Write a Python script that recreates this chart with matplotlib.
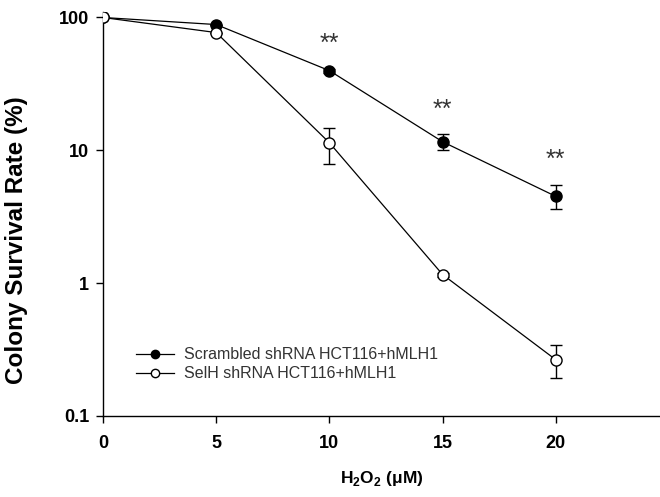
import numpy as np
import matplotlib
matplotlib.use("Agg")
import matplotlib.pyplot as plt

plt.rcParams["font.family"] = ["Liberation Sans", "DejaVu Sans"]
plt.rcParams["mathtext.fontset"] = "custom"
plt.rcParams["mathtext.rm"] = "Liberation Sans"
plt.rcParams["mathtext.bf"] = "Liberation Sans:bold"

# ------------------------------------------------------------
# Data
# ------------------------------------------------------------
dose = [0, 5, 10, 15, 20]

scr_mean = [100, 88.5, 39.8, 11.6, 4.5]
scr_lo = [0, 0, 1.5, 1.5, 0.9]
scr_hi = [0, 0, 1.5, 1.6, 1.0]

selh_mean = [100, 77, 11.4, 1.16, 0.265]
selh_lo = [0, 0, 3.5, 0.04, 0.072]
selh_hi = [0, 0, 3.4, 0.04, 0.075]

sig_dose = [10, 15, 20]
sig_label = "**"

scr_name = "Scrambled shRNA HCT116+hMLH1"
selh_name = "SelH shRNA HCT116+hMLH1"

# ------------------------------------------------------------
# Figure
# ------------------------------------------------------------
fig = plt.figure(figsize=(6.6, 4.97), dpi=100)
ax = fig.add_axes([103 / 660, 81 / 497, 557 / 660, 404 / 497])

err_kw = dict(fmt="none", ecolor="black", elinewidth=1.0,
              capsize=4, capthick=1.0)
ax.errorbar(dose, scr_mean, yerr=[scr_lo, scr_hi], zorder=2, **err_kw)
ax.errorbar(dose, selh_mean, yerr=[selh_lo, selh_hi], zorder=2, **err_kw)

ax.plot(dose, scr_mean, color="black", linewidth=0.9, marker="o",
        markersize=8, markerfacecolor="black", markeredgecolor="black",
        label=scr_name, zorder=3)
ax.plot(dose, selh_mean, color="black", linewidth=0.9, marker="o",
        markersize=8, markerfacecolor="white", markeredgecolor="black",
        label=selh_name, zorder=4)

# significance stars above the scrambled series
for x in sig_dose:
    i = dose.index(x)
    top = scr_mean[i] + scr_hi[i]
    ax.annotate(sig_label, xy=(x, top), xytext=(0, 9),
                textcoords="offset points", ha="center", va="bottom",
                fontsize=18, color="#333333")

ax.set_yscale("log")
ax.set_xlim(0, 24.6)
ax.set_ylim(0.1, 110)

ax.set_xticks([0, 5, 10, 15, 20])
ax.set_yticks([0.1, 1, 10, 100])
ax.set_yticklabels(["0.1", "1", "10", "100"])
ax.yaxis.set_minor_locator(matplotlib.ticker.NullLocator())
ax.tick_params(direction="out", length=5, width=1, labelsize=13)
ax.tick_params(axis="x", pad=9)
ax.tick_params(axis="y", pad=5)
for lbl in ax.get_xticklabels() + ax.get_yticklabels():
    lbl.set_fontweight("bold")

ax.spines["top"].set_visible(False)
ax.spines["right"].set_visible(False)
ax.spines["left"].set_linewidth(1.0)
ax.spines["bottom"].set_linewidth(1.0)

ax.set_ylabel("Colony Survival Rate (%)", fontsize=17.5, fontweight="bold")
ax.yaxis.set_label_coords(-0.135, 0.436)
ax.set_xlabel(r"H$_\mathbf{2}$O$_\mathbf{2}$ ($\mathbf{\mu}$M)", fontsize=12.5,
              fontweight="bold", labelpad=12)

leg = ax.legend(loc="lower left", bbox_to_anchor=(0.048, 0.07), frameon=False,
                fontsize=11.5, handlelength=2.4, handletextpad=0.6,
                labelspacing=0.25, borderaxespad=0, markerscale=0.75)
for t in leg.get_texts():
    t.set_color("#333333")

plt.savefig("out.png", dpi=100)
